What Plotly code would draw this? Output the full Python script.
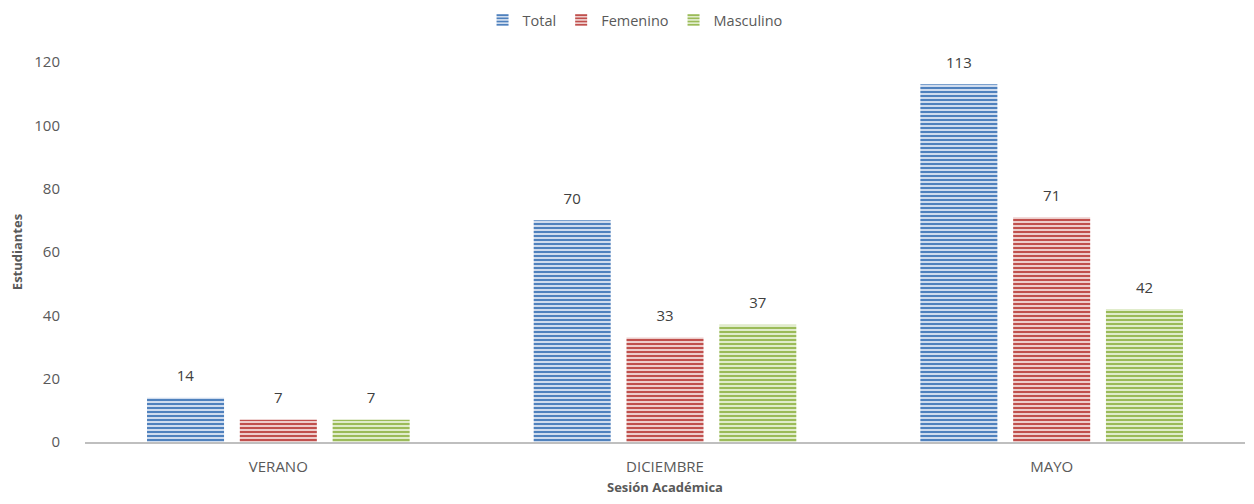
import plotly.graph_objects as go

categories = ["VERANO", "DICIEMBRE", "MAYO"]
series_names = ["Total", "Femenino", "Masculino"]
total = [14, 70, 113]
femenino = [7, 33, 71]
masculino = [7, 37, 42]
y_ticks = [0, 20, 40, 60, 80, 100, 120]

colors = ["#4F81BD", "#C0504D", "#9BBB59"]
bgs = ["#CFDCEE", "#EDCDCC", "#E0ECCB"]
LABEL_PAD = 3.0  # gap (in axis units) between bar top and its value label

fig = go.Figure()
for name, vals, c, bg in zip(series_names, [total, femenino, masculino], colors, bgs):
    fig.add_trace(go.Bar(
        x=categories, y=vals, name=name, offsetgroup=name,
        marker=dict(color=bg, line=dict(width=0),
                    pattern=dict(shape="-", fgcolor=c, bgcolor=bg, size=4, solidity=0.5, fillmode="replace")),
    ))
    fig.add_trace(go.Bar(
        x=categories, y=[LABEL_PAD] * len(vals), base=vals, offsetgroup=name,
        showlegend=False, hoverinfo="skip",
        marker=dict(color="rgba(0,0,0,0)", line=dict(width=0)),
        text=[str(v) for v in vals], textposition="outside",
        textfont=dict(size=15, color="#404040"), cliponaxis=False,
    ))

# The page body adds an 8px margin; size the figure so it fits the 1254x504 window.
fig.update_layout(
    width=1238, height=488,
    barmode="group", bargap=0.28, bargroupgap=0.17,
    plot_bgcolor="white", paper_bgcolor="white",
    font=dict(family="Open Sans, Liberation Sans, sans-serif", size=15, color="#595959"),
    margin=dict(l=77, r=1, t=54, b=54, autoexpand=False),
    legend=dict(orientation="h", x=0.5065, xanchor="center", xref="container",
                y=0.9754, yanchor="middle", yref="container",
                font=dict(size=14.5, color="#595959"), traceorder="normal", itemwidth=30),
    xaxis=dict(showline=True, linecolor="#BFBFBF", linewidth=2, ticks="", automargin=False,
               ticklabelstandoff=10,
               title=dict(text="<b>Sesión Académica</b>", font=dict(size=13, color="#595959"), standoff=18),
               tickfont=dict(size=15, color="#595959")),
    yaxis=dict(range=[0, 120], tickvals=y_ticks, showgrid=False, zeroline=False, showline=False,
               ticks="", ticklabelstandoff=24, automargin=False,
               title=dict(text="<b>Estudiantes</b>", font=dict(size=13, color="#595959"), standoff=10),
               tickfont=dict(size=15, color="#595959")),
)

fig.write_html("out.html")
